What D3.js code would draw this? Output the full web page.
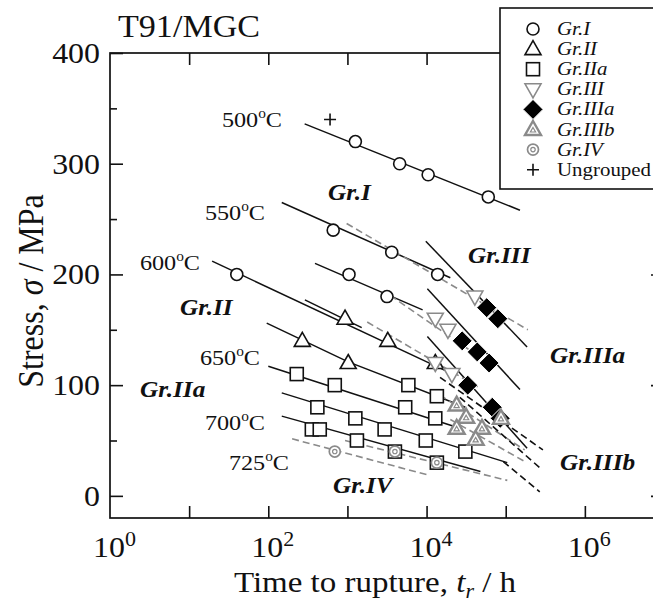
<!DOCTYPE html>
<html><head><meta charset="utf-8">
<script src="https://cdn.jsdelivr.net/npm/d3@7"></script>
<style>body{margin:0;background:#fff;} svg{display:block;font-family:"Liberation Serif","Times New Roman",serif;}</style>
</head><body><svg id="c" width="653" height="605"></svg>
<script>
// ---------- data (time to rupture in h, stress in MPa) ----------
const grI = [[1260,320],[4570,300],[10470,290],[60250,270],[661,240],[3630,220],[13800,200],[40,200],[1047,200],[3160,180]];
const ungrouped = [[603,340]];
const grII = [[933,160],[3236,140],[269,140],[1023,120],[12880,120]];
const grIIa = [[229,110],[692,100],[5888,100],[13490,90],[417,80],[1259,70],[5370,80],[12880,70],[355,60],[447,60],[2951,60],[1318,50],[9772,50],[30900,40],[3981,40],[13490,30]];
const grIII = [[40740,180],[12880,160],[18620,150],[12880,120],[20890,110]];
const grIIIa = [[57540,170],[79430,160],[28180,140],[43650,130],[61660,120],[33110,100],[67610,80],[85110,70]];
const grIIIb = [[23990,82],[31620,71],[23990,61],[50120,61],[41690,51],[87100,70]];
const grIV = [[692,40],[3981,40],[13490,30]];

const solidLines = [
  [[288,336],[151400,258]],
  [[148,265],[19950,197]],
  [[389,210],[8913,168]],
  [[19.5,212],[22900,109]],
  [[290,177],[1515,152]],
  [[95.5,156],[1023,121],[30900,80]],
  [[100,117],[26300,61]],
  [[148,93],[104700,30]],
  [[148,72],[47900,22]],
  [[9772,230],[186200,134.5]],
  [[10230,187],[151400,96]],
  [[10230,144],[186200,43]]
];
const grayDashedLines = [
  [[977,246],[190500,150]],
  [[3467,181],[47900,125]],
  [[1778,157],[47900,97]],
  [[200,51.5],[10230,19]],
  [[933,50],[104700,14]],
  [[14790,91],[173800,41.5]],
  [[19950,69],[173800,31]]
];
const blackDashedLines = [
  [[14790,107],[295100,41.5]],
  [[26300,89],[288400,23.5]],
  [[93300,31],[269200,3.6]]
];

const xTickValues = [1e1,1e2,1e3,1e4,1e5,1e6];
const xLabelExps = [0,2,4,6];
const yMajor = [0,100,200,300,400];
const yMinor = [50,150,250,350];

const tempLabels = ["500","550","600","650","700","725"];
const groupLabels = ["Gr.I","Gr.III","Gr.II","Gr.IIa","Gr.IIIa","Gr.IIIb","Gr.IV"];
const legendNames = ["Gr.I","Gr.II","Gr.IIa","Gr.III","Gr.IIIa","Gr.IIIb","Gr.IV","Ungrouped"];
const legendTypes = ["I","II","IIa","III","IIIa","IIIb","IV","U"];

// ---------- layout ----------
const SX = 1.1;
const GRAY = "#8a8a8a";
const svg = d3.select("#c");
const x = d3.scaleLog().domain([1,1e7]).range([110,664]);
const y = d3.scaleLinear().domain([-20,400]).range([518,53]);

const tempPos = [[282,127],[265,220],[200,270],[260,365],[265,430],[289,470]];
const groupPos = [[328,200],[468,263],[180,315],[140,397],[550,363],[560,470],[333,493]];

function stext(px, py, anchor, size) {
  return svg.append("text")
    .attr("transform", `translate(${px},${py}) scale(${SX},1)`)
    .attr("text-anchor", anchor).attr("font-size", size).attr("fill","#111");
}

// frame
svg.append("rect").attr("x",110).attr("y",53).attr("width",554).attr("height",465)
  .attr("fill","none").attr("stroke","#111").attr("stroke-width",1.7);

// ticks via d3 axes (inward)
const axG = svg.append("g");
axG.append("g").attr("transform","translate(0,518)")
  .call(d3.axisBottom(x).tickValues(xTickValues).tickSize(-12).tickFormat(""));
axG.append("g").attr("transform","translate(0,53)")
  .call(d3.axisTop(x).tickValues(xTickValues).tickSize(-12).tickFormat(""));
axG.append("g").attr("transform","translate(110,0)")
  .call(d3.axisLeft(y).tickValues(yMajor).tickSize(-13).tickFormat(""));
axG.append("g").attr("transform","translate(110,0)")
  .call(d3.axisLeft(y).tickValues(yMinor).tickSize(-7).tickFormat(""));
axG.append("g").attr("transform","translate(664,0)")
  .call(d3.axisRight(y).tickValues(yMajor).tickSize(-13).tickFormat(""));
axG.append("g").attr("transform","translate(664,0)")
  .call(d3.axisRight(y).tickValues(yMinor).tickSize(-7).tickFormat(""));
axG.selectAll(".domain").remove();
axG.selectAll(".tick line").attr("stroke","#111").attr("stroke-width",1.6);

// tick labels
yMajor.forEach(v => { stext(100, y(v)+10, "end", 29).text(v); });
xLabelExps.forEach(e => {
  const t = stext(x(Math.pow(10,e))-17, 557, "start", 29);
  t.append("tspan").text("10");
  t.append("tspan").attr("dy",-11).attr("font-size",20).text(e);
});

// axis titles
const xt = stext(375, 592, "middle", 30);
xt.append("tspan").text("Time to rupture, ");
xt.append("tspan").attr("font-style","italic").text("t");
xt.append("tspan").attr("font-style","italic").attr("font-size",20).attr("dy",6).text("r");
xt.append("tspan").attr("dy",-6).text(" / h");

const yt = svg.append("text").attr("transform","translate(43,291) rotate(-90) scale(1,1.1)")
  .attr("text-anchor","middle").attr("font-size",32).attr("fill","#111");
yt.append("tspan").text("Stress, ");
yt.append("tspan").attr("font-style","italic").text("σ");
yt.append("tspan").text(" / MPa");

stext(118, 37, "start", 31).text("T91/MGC");

// lines
const line = d3.line().x(d => x(d[0])).y(d => y(d[1]));
const lg = svg.append("g").attr("fill","none");
solidLines.forEach(l => lg.append("path").attr("d", line(l)).attr("stroke","#111").attr("stroke-width",1.5));
grayDashedLines.forEach(l => lg.append("path").attr("d", line(l)).attr("stroke",GRAY).attr("stroke-width",1.6).attr("stroke-dasharray","7,4"));
blackDashedLines.forEach(l => lg.append("path").attr("d", line(l)).attr("stroke","#111").attr("stroke-width",1.6).attr("stroke-dasharray","7,4"));

// markers
function marker(g, type, cx, cy) {
  const s = g.append("g").attr("transform", `translate(${cx},${cy})`);
  switch (type) {
    case "I": s.append("circle").attr("r",6).attr("fill","#fff").attr("stroke","#111").attr("stroke-width",1.6); break;
    case "II": s.append("path").attr("d","M0,-8.5L8,5.5L-8,5.5Z").attr("fill","#fff").attr("stroke","#111").attr("stroke-width",1.6); break;
    case "IIa": s.append("rect").attr("x",-6.5).attr("y",-6.5).attr("width",13).attr("height",13).attr("fill","#fff").attr("stroke","#111").attr("stroke-width",1.6); break;
    case "III": s.append("path").attr("d","M0,8.5L8,-5.5L-8,-5.5Z").attr("fill","#fff").attr("stroke",GRAY).attr("stroke-width",1.6); break;
    case "IIIa": s.append("path").attr("d","M0,-10L10,0L0,10L-10,0Z").attr("fill","#000").attr("stroke","#fff").attr("stroke-width",1); break;
    case "IIIb":
      s.append("path").attr("d","M0,-8.5L8,5.5L-8,5.5Z").attr("fill","#fff").attr("stroke",GRAY).attr("stroke-width",2.4);
      s.append("path").attr("d","M0,-2L2.6,2.5L-2.6,2.5Z").attr("fill","none").attr("stroke",GRAY).attr("stroke-width",1.2); break;
    case "IV":
      s.append("circle").attr("r",5.5).attr("fill","#fff").attr("stroke",GRAY).attr("stroke-width",1.7);
      s.append("circle").attr("r",2.2).attr("fill","none").attr("stroke",GRAY).attr("stroke-width",1.2); break;
    case "U": s.append("path").attr("d","M-6,0H6M0,-6V6").attr("stroke","#111").attr("stroke-width",1.6); break;
  }
}
const mg = svg.append("g");
[[grIIa,"IIa"],[grIV,"IV"],[grI,"I"],[ungrouped,"U"],[grII,"II"],[grIII,"III"],[grIIIa,"IIIa"],[grIIIb,"IIIb"]]
  .forEach(([arr,type]) => arr.forEach(d => marker(mg, type, x(d[0]), y(d[1]))));

// temperature labels
tempLabels.forEach((t,i) => {
  const tx = stext(tempPos[i][0], tempPos[i][1], "end", 22);
  tx.append("tspan").text(t);
  tx.append("tspan").attr("dy",-9).attr("font-size",14).text("o");
  tx.append("tspan").attr("dy",9).text("C");
});
// group labels
groupLabels.forEach((t,i) => {
  stext(groupPos[i][0], groupPos[i][1], "start", 23).attr("font-weight","bold").attr("font-style","italic").text(t);
});

// legend
const leg = svg.append("g");
leg.append("rect").attr("x",500).attr("y",8).attr("width",170).attr("height",181)
  .attr("fill","#fff").attr("stroke","#111").attr("stroke-width",1.6);
legendNames.forEach((n,i) => {
  const yy = 29 + i*20.1;
  marker(leg, legendTypes[i], 533, yy);
  const t = stext(557, yy+6, "start", 19).text(n);
  if (n !== "Ungrouped") t.attr("font-style","italic");
});
</script></body></html>
